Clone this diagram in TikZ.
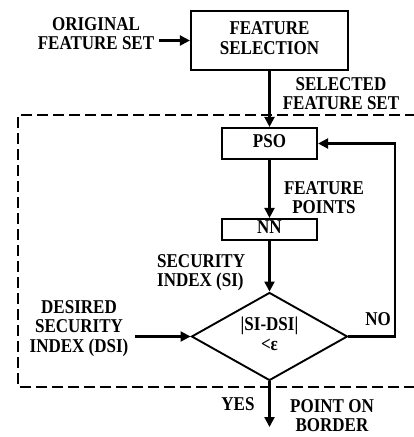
\documentclass[tikz,border=0pt]{standalone}
\usepackage{fontspec}
\setmainfont{Liberation Serif}
\usetikzlibrary{arrows.meta,shapes.geometric}
% text block, slightly stretched vertically
\newcommand\stack[2][c]{\scalebox{1}[1.15]{\begin{tabular}{@{}#1@{}}#2\end{tabular}}}

\begin{document}
\begin{tikzpicture}[x=1pt,y=-1pt,
  txt/.style={font=\bfseries\fontsize{17}{16.8}\selectfont, inner sep=0pt},
  blk/.style={draw, line width=2.2pt, inner sep=0pt, txt},
  arr/.style={line width=2.2pt, -{Triangle[length=10pt,width=10pt]}},
  frame/.style={line width=2.2pt, dash pattern=on 11pt off 5pt}]
\useasboundingbox (0,0) rectangle (413,437);

% blocks
\node[blk, minimum width=157pt, minimum height=59pt] (fs) at (269.5,40.5) {\stack{FEATURE\\SELECTION}};
\node[blk, minimum width=95pt, minimum height=31pt] (pso) at (269.5,143.5) {\stack{PSO}};
\node[blk, minimum width=95pt, minimum height=21pt] (nn) at (269.5,229.5) {\stack{NN}};
\node[draw, diamond, aspect=1.8, line width=1.9pt, minimum width=156pt, minimum height=88pt, inner sep=0pt, txt] (dec) at (269.5,336.5) {\stack{|SI-DSI|\\<ε}};

% labels
\node[txt] (orig) at (96,36) {\stack{ORIGINAL\\FEATURE SET}};
\node[txt] (sel) at (341,96) {\stack{SELECTED\\FEATURE SET}};
\node[txt] (fp) at (324,200) {\stack{FEATURE\\POINTS}};
\node[txt, anchor=west] (si) at (157,273) {\stack[l]{SECURITY\\INDEX (SI)}};
\node[txt] (dsi) at (79,329) {\stack{DESIRED\\SECURITY\\INDEX (DSI)}};
\node[txt] (no) at (378,322) {\stack{NO}};
\node[txt] (yes) at (238,407) {\stack{YES}};
\node[txt] (pob) at (332,418) {\stack{POINT ON\\BORDER}};

% helper points
\coordinate (loop) at (395,0);
\coordinate (out) at (269.5,427);
\coordinate (ftr) at (416,115);
\coordinate (ftl) at (18,115);
\coordinate (fbl) at (18,387);
\coordinate (fbr) at (416,387);

% dashed frame
\draw[frame] (ftr) -- (ftl) -- (fbl) -- (fbr);

% connectors
\draw[arr] ([xshift=5pt]orig.east |- fs.west) -- (fs.west);
\draw[arr] (fs) -- (pso);
\draw[arr] (pso) -- (nn);
\draw[arr] (nn) -- (dec);
\draw[arr] ([xshift=6pt]dsi.east |- dec.west) -- (dec.west);
\draw[arr] (dec.east) -- (loop |- dec.east) -- (loop |- pso.east) -- (pso.east);
\draw[arr] (dec) -- (out);
\end{tikzpicture}
\end{document}
